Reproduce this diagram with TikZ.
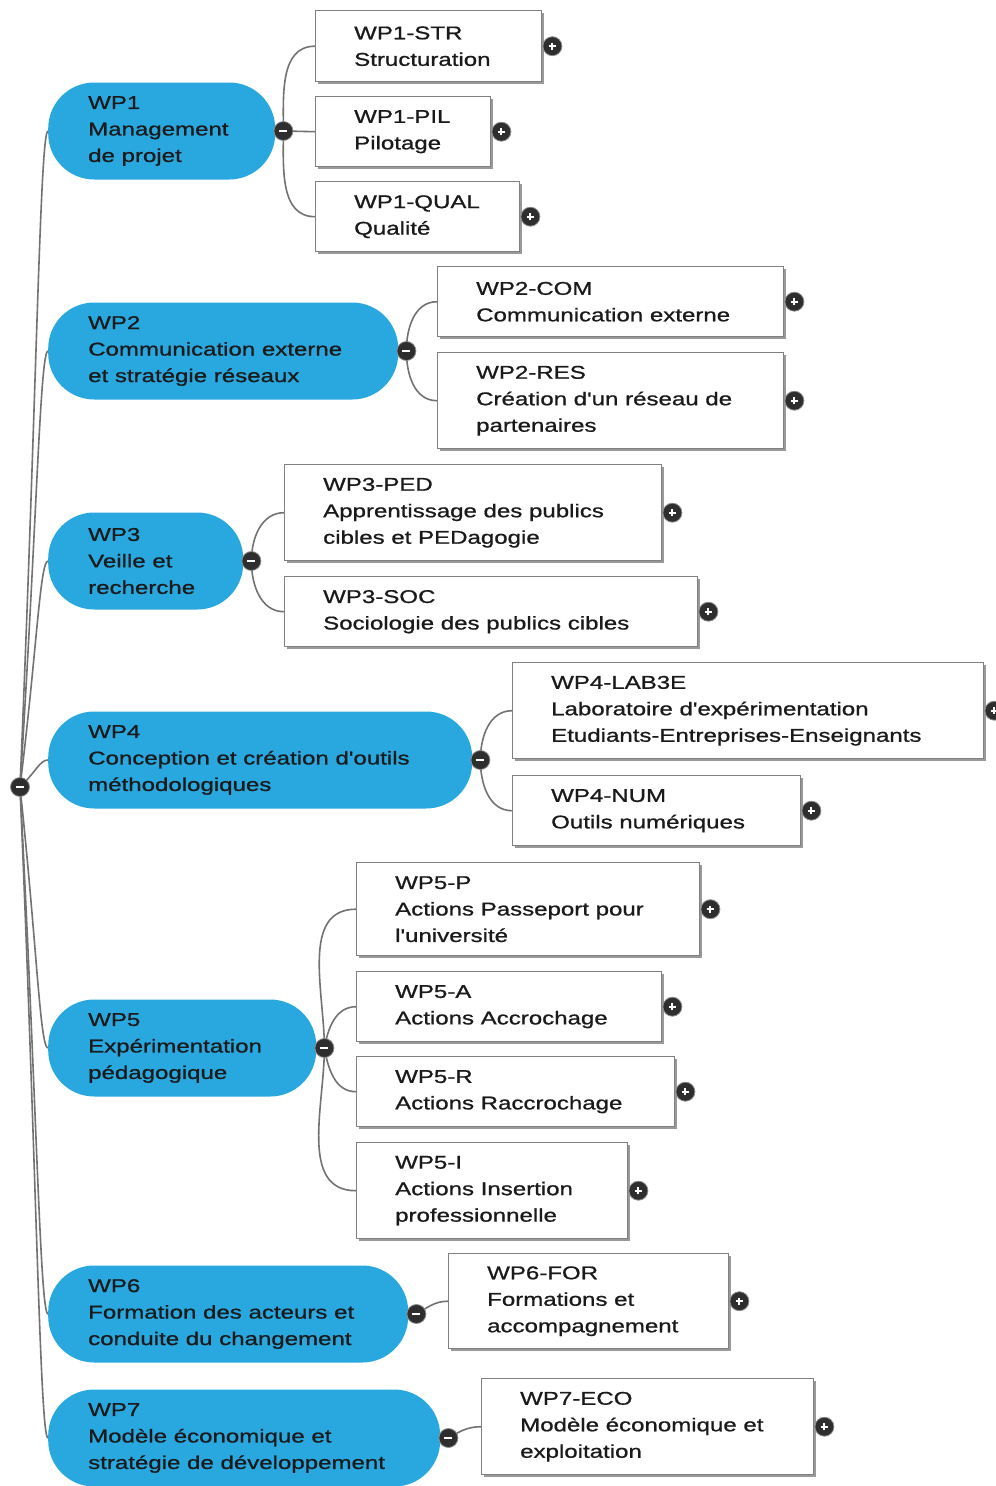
\documentclass[tikz,border=0pt]{standalone}
\usepackage{fontspec}
\newfontfamily\lsf{Liberation Sans}[FakeStretch=1.3,FakeBold=0.9]
\usetikzlibrary{shadows,calc}
\definecolor{wpblue}{HTML}{29A8E0}
\definecolor{txtc}{HTML}{1A1A1A}
\definecolor{linec}{HTML}{727272}
\definecolor{knob}{HTML}{2E2E2E}
\pgfdeclarelayer{bg}
\pgfsetlayers{bg,main}
\tikzset{
  wpnode/.style={fill=wpblue, rounded corners=46pt, minimum height=97pt, anchor=west, inner sep=0pt},
  txt/.style={anchor=west, align=left, inner sep=0pt, font=\lsf\fontsize{18.5}{26.5}\selectfont, text=txtc},
  boxnode/.style={draw=black!50, line width=1.4pt, fill=white, anchor=north west, inner sep=0pt,
    drop shadow={shadow xshift=2.5pt, shadow yshift=-2.5pt, fill=black!40, opacity=1}},
  conn/.style={draw=linec, line width=1.6pt},
  knobbase/.style={circle, fill=knob, draw=black!45, line width=0.8pt, minimum size=19pt, inner sep=0pt},
  minusc/.style={knobbase, path picture={\draw[white, line width=2.2pt]
      ([xshift=-4pt]path picture bounding box.center) -- ([xshift=4pt]path picture bounding box.center);}},
  plusc/.style={knobbase, path picture={\draw[white, line width=2pt]
      ([xshift=-3.5pt]path picture bounding box.center) -- ([xshift=3.5pt]path picture bounding box.center)
      ([yshift=-3.5pt]path picture bounding box.center) -- ([yshift=3.5pt]path picture bounding box.center);}}
}
\begin{document}
\begin{tikzpicture}
\useasboundingbox (0,0) rectangle (996pt,-1486pt);
\begin{scope}[x=1pt,y=1pt]
% work packages
\node[wpnode, minimum width=227pt] (wp1) at (48,-131) {};
\node[wpnode, minimum width=350pt] (wp2) at (48,-351) {};
\node[wpnode, minimum width=195pt] (wp3) at (48,-561) {};
\node[wpnode, minimum width=424pt] (wp4) at (48,-760) {};
\node[wpnode, minimum width=268pt] (wp5) at (48,-1048) {};
\node[wpnode, minimum width=360pt] (wp6) at (48,-1314) {};
\node[wpnode, minimum width=392pt] (wp7) at (48,-1438) {};
\node[txt] (wp1t) at ([xshift=40pt]wp1.west) {WP1\\Management\\de projet};
\node[txt] (wp2t) at ([xshift=40pt]wp2.west) {WP2\\Communication externe\\et stratégie réseaux};
\node[txt] (wp3t) at ([xshift=40pt]wp3.west) {WP3\\Veille et\\recherche};
\node[txt] (wp4t) at ([xshift=40pt]wp4.west) {WP4\\Conception et création d'outils\\méthodologiques};
\node[txt] (wp5t) at ([xshift=40pt]wp5.west) {WP5\\Expérimentation\\pédagogique};
\node[txt] (wp6t) at ([xshift=40pt]wp6.west) {WP6\\Formation des acteurs et\\conduite du changement};
\node[txt] (wp7t) at ([xshift=40pt]wp7.west) {WP7\\Modèle économique et\\stratégie de développement};

% boxes
\node[boxnode, minimum width=226pt, minimum height=71pt] (str) at (315,-10) {};
\node[boxnode, minimum width=175pt, minimum height=70pt] (pil) at (315,-96) {};
\node[boxnode, minimum width=204pt, minimum height=70pt] (qual) at (315,-181) {};
\node[boxnode, minimum width=346pt, minimum height=70pt] (com) at (437,-266) {};
\node[boxnode, minimum width=346pt, minimum height=96pt] (res) at (437,-352) {};
\node[boxnode, minimum width=377pt, minimum height=96pt] (ped) at (284,-464) {};
\node[boxnode, minimum width=413pt, minimum height=70pt] (soc) at (284,-576) {};
\node[boxnode, minimum width=471pt, minimum height=96pt] (lab) at (512,-662) {};
\node[boxnode, minimum width=288pt, minimum height=70pt] (num) at (512,-775) {};
\node[boxnode, minimum width=343pt, minimum height=93pt] (pfive) at (356,-862) {};
\node[boxnode, minimum width=305pt, minimum height=70pt] (afive) at (356,-971) {};
\node[boxnode, minimum width=318pt, minimum height=70pt] (rfive) at (356,-1056) {};
\node[boxnode, minimum width=271pt, minimum height=96pt] (ifive) at (356,-1142) {};
\node[boxnode, minimum width=280pt, minimum height=95pt] (for) at (448,-1253) {};
\node[boxnode, minimum width=332pt, minimum height=96pt] (eco) at (481,-1378) {};

\node[txt] (strt) at ([xshift=39pt]str.west) {WP1-STR\\Structuration};
\node[txt] (pilt) at ([xshift=39pt]pil.west) {WP1-PIL\\Pilotage};
\node[txt] (qualt) at ([xshift=39pt]qual.west) {WP1-QUAL\\Qualité};
\node[txt] (comt) at ([xshift=39pt]com.west) {WP2-COM\\Communication externe};
\node[txt] (rest) at ([xshift=39pt]res.west) {WP2-RES\\Création d'un réseau de\\partenaires};
\node[txt] (pedt) at ([xshift=39pt]ped.west) {WP3-PED\\Apprentissage des publics\\cibles et PEDagogie};
\node[txt] (soct) at ([xshift=39pt]soc.west) {WP3-SOC\\Sociologie des publics cibles};
\node[txt] (labt) at ([xshift=39pt]lab.west) {WP4-LAB3E\\Laboratoire d'expérimentation\\Etudiants-Entreprises-Enseignants};
\node[txt] (numt) at ([xshift=39pt]num.west) {WP4-NUM\\Outils numériques};
\node[txt] (pfivet) at ([xshift=39pt]pfive.west) {WP5-P\\Actions Passeport pour\\l'université};
\node[txt] (afivet) at ([xshift=39pt]afive.west) {WP5-A\\Actions Accrochage};
\node[txt] (rfivet) at ([xshift=39pt]rfive.west) {WP5-R\\Actions Raccrochage};
\node[txt] (ifivet) at ([xshift=39pt]ifive.west) {WP5-I\\Actions Insertion\\professionnelle};
\node[txt] (fort) at ([xshift=39pt]for.west) {WP6-FOR\\Formations et\\accompagnement};
\node[txt] (ecot) at ([xshift=39pt]eco.west) {WP7-ECO\\Modèle économique et\\exploitation};

% plus knobs
\foreach \b in {str,pil,qual,com,res,ped,soc,lab,num,pfive,afive,rfive,ifive,for,eco}
  \node[plusc] (\b p) at ([xshift=10pt]\b.east) {};

% minus knobs
\node[minusc] (root) at (20,-787) {};
\foreach \w in {wp1,wp2,wp3,wp4,wp5,wp6,wp7}
  \node[minusc] (\w m) at ([xshift=8pt]\w.east) {};

% connectors
\begin{pgfonlayer}{bg}
\foreach \w in {wp1,wp2,wp3,wp4,wp5,wp6,wp7}
  \draw[conn] (root.center) .. controls ($(root.center)!0.6!(\w.west)$) and ($(\w.west)+(-8pt,0)$) .. (\w.west);
\draw[conn] (wp1m.center) to[out=90,in=180] (str.west);
\draw[conn] (wp1m.center) -- (pil.west);
\draw[conn] (wp1m.center) to[out=-90,in=180] (qual.west);
\draw[conn] (wp2m.center) to[out=90,in=180] (com.west);
\draw[conn] (wp2m.center) to[out=-90,in=180] (res.west);
\draw[conn] (wp3m.center) to[out=90,in=180] (ped.west);
\draw[conn] (wp3m.center) to[out=-90,in=180] (soc.west);
\draw[conn] (wp4m.center) to[out=90,in=180] (lab.west);
\draw[conn] (wp4m.center) to[out=-90,in=180] (num.west);
\draw[conn] (wp5m.center) to[out=90,in=180] (pfive.west);
\draw[conn] (wp5m.center) to[out=80,in=180] (afive.west);
\draw[conn] (wp5m.center) to[out=-80,in=180] (rfive.west);
\draw[conn] (wp5m.center) to[out=-90,in=180] (ifive.west);
\draw[conn] (wp6m.center) to[out=30,in=180] (for.west);
\draw[conn] (wp7m.center) to[out=30,in=180] (eco.west);
\end{pgfonlayer}
\end{scope}
\end{tikzpicture}
\end{document}
